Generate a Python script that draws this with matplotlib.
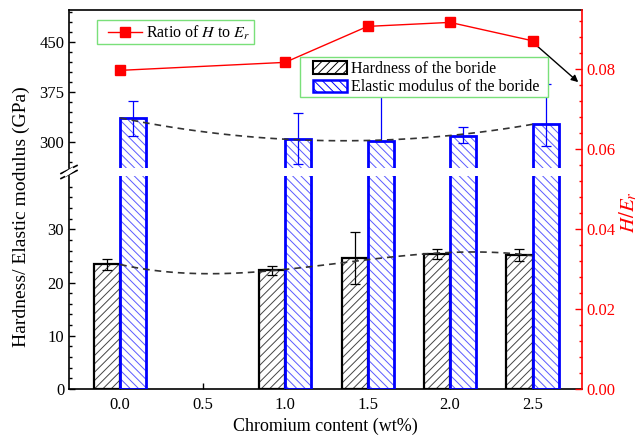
import matplotlib
matplotlib.use("Agg")
import matplotlib.pyplot as plt
import matplotlib.patches as mpatches
from matplotlib.lines import Line2D
import numpy as np

plt.rcParams['font.family'] = ['Liberation Serif', 'DejaVu Serif']
plt.rcParams['mathtext.fontset'] = 'stix'
plt.rcParams['hatch.linewidth'] = 0.7

# Data
cr = np.array([0.0, 1.0, 1.5, 2.0, 2.5])
hardness = np.array([23.4, 22.3, 24.6, 25.4, 25.1])
hardness_err = np.array([1.0, 0.8, 4.8, 0.9, 1.1])
modulus = np.array([336, 305, 302, 309, 327])
modulus_err_lo = np.array([27, 38, 0, 11, 33])
modulus_err_hi = np.array([25, 38, 80, 13, 60])
ratio = np.array([0.0797, 0.0817, 0.0907, 0.0917, 0.0871])

xticks = [0.0, 0.5, 1.0, 1.5, 2.0, 2.5]
xlim = (-0.31, 2.80)
bw = 0.158

W, H = 641, 436
fig = plt.figure(figsize=(W / 100, H / 100), dpi=100)
L, R = 69 / W, 582 / W
ax_lo = fig.add_axes([L, 1 - 389 / H, R - L, (389 - 176) / H])
ax_hi = fig.add_axes([L, 1 - 168 / H, R - L, (168 - 10) / H])
ax_r = fig.add_axes([L, 1 - 389 / H, R - L, (389 - 10) / H])


def draw_bars(ax):
    # hardness: black hatch
    ax.bar(cr - bw, hardness, bw, align='edge', facecolor='white',
           edgecolor='#444444', hatch='////', lw=0, zorder=2)
    ax.bar(cr - bw, hardness, bw, align='edge', fill=False,
           edgecolor='black', lw=1.6, zorder=3)
    # elastic modulus: blue hatch
    ax.bar(cr, modulus, bw, align='edge', facecolor='white',
           edgecolor='#5a5aff', hatch='\\\\\\\\', lw=0, zorder=2)
    ax.bar(cr, modulus, bw, align='edge', fill=False,
           edgecolor='blue', lw=2.0, zorder=3)
    ax.errorbar(cr - bw / 2, hardness, yerr=hardness_err, fmt='none',
                ecolor='black', elinewidth=0.9, capsize=3.5, capthick=0.9, zorder=4)
    ax.errorbar(cr + bw / 2, modulus, yerr=[modulus_err_lo, modulus_err_hi],
                fmt='none', ecolor='blue', elinewidth=0.9, capsize=3.5,
                capthick=0.9, zorder=4)


draw_bars(ax_lo)
draw_bars(ax_hi)

# trend lines
xs = np.linspace(0, 2.5, 100)
ph = np.polyfit(cr, hardness, 3)
pm = np.polyfit(cr, modulus, 2)
ax_lo.plot(xs, np.polyval(ph, xs), color='#333333', lw=1.2, dashes=(4, 3), zorder=5)
ax_hi.plot(xs, np.polyval(pm, xs), color='#333333', lw=1.2, dashes=(4, 3), zorder=5)

for ax in (ax_lo, ax_hi):
    ax.set_xlim(*xlim)
    ax.spines['right'].set_visible(False)
    ax.tick_params(direction='in', labelsize=12, length=4, width=1)
    ax.tick_params(which='minor', direction='in', length=2.5, width=1)
    for s in ax.spines.values():
        s.set_linewidth(1.2)

ax_lo.set_ylim(0, 40)
ax_lo.set_yticks([0, 10, 20, 30])
ax_lo.set_yticks(np.arange(0, 40, 2), minor=True)
ax_lo.set_xticks(xticks)
ax_lo.set_xticklabels(['%.1f' % v for v in xticks])
ax_lo.spines['top'].set_visible(False)
ax_lo.tick_params(axis='x', top=False, pad=6)
ax_lo.set_xlabel('Chromium content (wt%)', fontsize=13, labelpad=3)

ax_hi.set_ylim(261, 498)
ax_hi.set_yticks([300, 375, 450])
ax_hi.set_yticks(np.arange(270, 498, 15), minor=True)
ax_hi.spines['bottom'].set_visible(False)
ax_hi.tick_params(axis='x', bottom=False, top=False, labelbottom=False)

# right axis: H/Er ratio
ax_r.patch.set_visible(False)
for k in ('left', 'top', 'bottom'):
    ax_r.spines[k].set_visible(False)
ax_r.spines['right'].set_color('red')
ax_r.spines['right'].set_linewidth(1.2)
ax_r.set_xlim(*xlim)
ax_r.set_ylim(0, 0.0948)
ax_r.set_xticks([])
ax_r.yaxis.tick_right()
ax_r.set_yticks([0, 0.02, 0.04, 0.06, 0.08])
ax_r.set_yticklabels(['0.00', '0.02', '0.04', '0.06', '0.08'])
ax_r.set_yticks(np.arange(0, 0.095, 0.004), minor=True)
ax_r.tick_params(axis='y', which='both', direction='in', colors='red', labelsize=12)
ax_r.tick_params(axis='y', which='major', length=5, width=1)
ax_r.tick_params(axis='y', which='minor', length=2.5, width=1)
ax_r.plot(cr, ratio, color='red', lw=1, marker='s', ms=6.5, mec='red', mfc='red', zorder=6)
ax_r.annotate('', xy=(2.79, 0.0763), xytext=(2.47, 0.0879),
              arrowprops=dict(arrowstyle='-|>', color='black', lw=1, mutation_scale=10),
              annotation_clip=False)

fig.text(628 / W, 1 - 212 / H, r'$H/E_r$', color='red', fontsize=15,
         rotation=90, ha='center', va='center')
fig.text(21 / W, 1 - 217 / H, 'Hardness/ Elastic modulus (GPa)', fontsize=14,
         rotation=90, ha='center', va='center')

# break marks on the left axis
for dy in (-2.5, 2.5):
    y0 = 1 - (172 + dy) / H
    fig.add_artist(Line2D([L - 8 / W, L + 8 / W], [y0 - 4 / H, y0 + 4 / H],
                          color='black', lw=1.2))
fig.add_artist(Line2D([L - 3 / W, L + 3 / W], [1 - 174 / H, 1 - 170 / H],
                      color='white', lw=3))

# legend boxes (drawn on the top axes so they hide the error bars below)
for x0, y0, x1, y1 in [(97, 20, 254, 44), (300, 57, 548, 97)]:
    ax_r.add_patch(mpatches.Rectangle((x0 / W, 1 - y1 / H), (x1 - x0) / W, (y1 - y0) / H,
                                      transform=fig.transFigure, facecolor='white',
                                      edgecolor='#7ae07a', lw=1.0, zorder=4,
                                      clip_on=False))

h1 = Line2D([], [], color='red', lw=1, marker='s', ms=6.5)
leg1 = ax_r.legend([h1], [r'Ratio of $H$ to $E_r$'], loc='upper left',
                   bbox_to_anchor=(108 / W, 1 - 24 / H),
                   bbox_transform=fig.transFigure, fontsize=11.5, frameon=False,
                   borderaxespad=0, borderpad=0, handlelength=2.1, handletextpad=0.3)
leg1.set_zorder(5)
ax_r.add_artist(leg1)

p1 = mpatches.Patch(facecolor='white', edgecolor='black', hatch='////', lw=1.5)
p2 = mpatches.Patch(facecolor='white', edgecolor='blue', hatch='\\\\\\\\', lw=1.8)
leg2 = ax_r.legend([p1, p2], ['Hardness of the boride', 'Elastic modulus of the boride'],
                   loc='upper left', bbox_to_anchor=(313 / W, 1 - 61 / H),
                   bbox_transform=fig.transFigure, fontsize=11.5, frameon=False,
                   borderaxespad=0, borderpad=0, handlelength=2.1, handleheight=0.8,
                   labelspacing=0.15, handletextpad=0.3)
leg2.set_zorder(5)

fig.savefig('out.png', dpi=100)
